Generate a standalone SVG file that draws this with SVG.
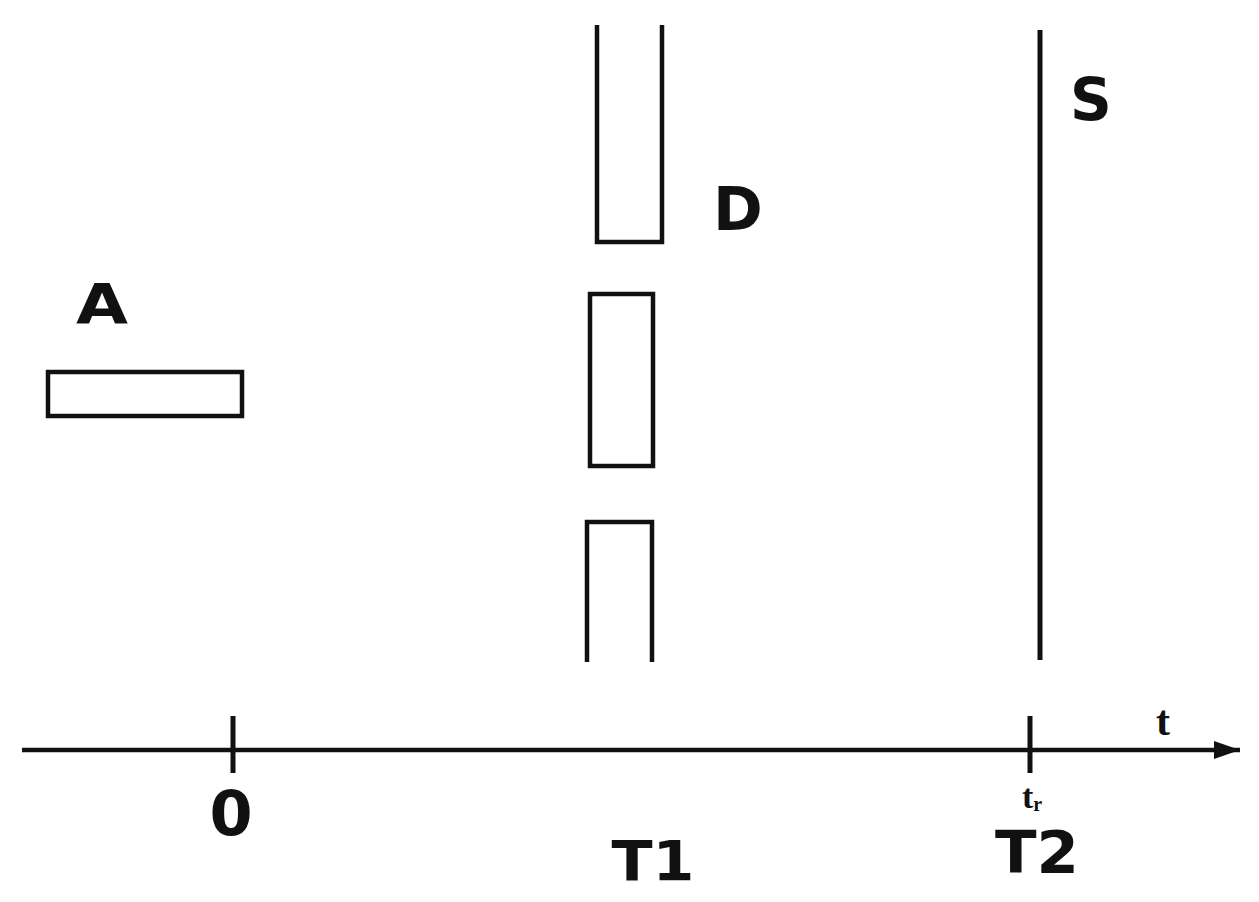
<svg xmlns="http://www.w3.org/2000/svg" width="1259" height="902" viewBox="0 0 1259 902">
<style>
.shape{fill:none;stroke:#111;stroke-width:4.5}
.lbl{font-family:"DejaVu Sans",sans-serif;font-weight:bold;fill:#111}
.it{font-family:"Liberation Serif",serif;font-weight:bold;fill:#111}
</style>
<defs>
<marker id="arr" markerUnits="userSpaceOnUse" markerWidth="30" markerHeight="24" refX="26" refY="12" orient="auto">
<path d="M0,3 L26,12 L0,21 Z" fill="#111"/>
</marker>
</defs>
<rect width="1259" height="902" fill="#fff"/>
<g id="connectors">
<line x1="22" y1="750" x2="1240" y2="750" stroke="#111" stroke-width="4.5" marker-end="url(#arr)"/>
<line x1="233" y1="716" x2="233" y2="773" stroke="#111" stroke-width="5"/>
<line x1="1030" y1="716" x2="1030" y2="773" stroke="#111" stroke-width="5"/>
</g>
<g id="nodeA">
<rect class="shape" x="48" y="372" width="194" height="44"/>
<text class="lbl" x="102" y="323" font-size="56" text-anchor="middle" textLength="52" lengthAdjust="spacingAndGlyphs">A</text>
</g>
<g id="nodeD">
<path class="shape" d="M597,25 V242 H662 V25"/>
<text class="lbl" x="738" y="230" font-size="60" text-anchor="middle">D</text>
</g>
<g id="nodeMid">
<rect class="shape" x="590" y="294" width="63" height="172"/>
</g>
<g id="nodeBottom">
<path class="shape" d="M587,662 V522 H652 V662"/>
</g>
<g id="nodeS">
<line x1="1040" y1="30" x2="1040" y2="660" stroke="#111" stroke-width="5"/>
<text class="lbl" x="1091" y="120" font-size="58" text-anchor="middle">S</text>
</g>
<g id="labels">
<text class="lbl" x="231" y="835" font-size="62" text-anchor="middle">0</text>
<text class="lbl" x="653" y="880" font-size="56" text-anchor="middle" textLength="83" lengthAdjust="spacingAndGlyphs">T1</text>
<text class="lbl" x="1037" y="873" font-size="58" text-anchor="middle" textLength="84" lengthAdjust="spacingAndGlyphs">T2</text>
<text class="it" x="1163" y="735" font-size="42" text-anchor="middle">t</text>
<text class="it" x="1032" y="808" font-size="34" text-anchor="middle">t<tspan font-size="20" dy="3">r</tspan></text>
</g>
</svg>
